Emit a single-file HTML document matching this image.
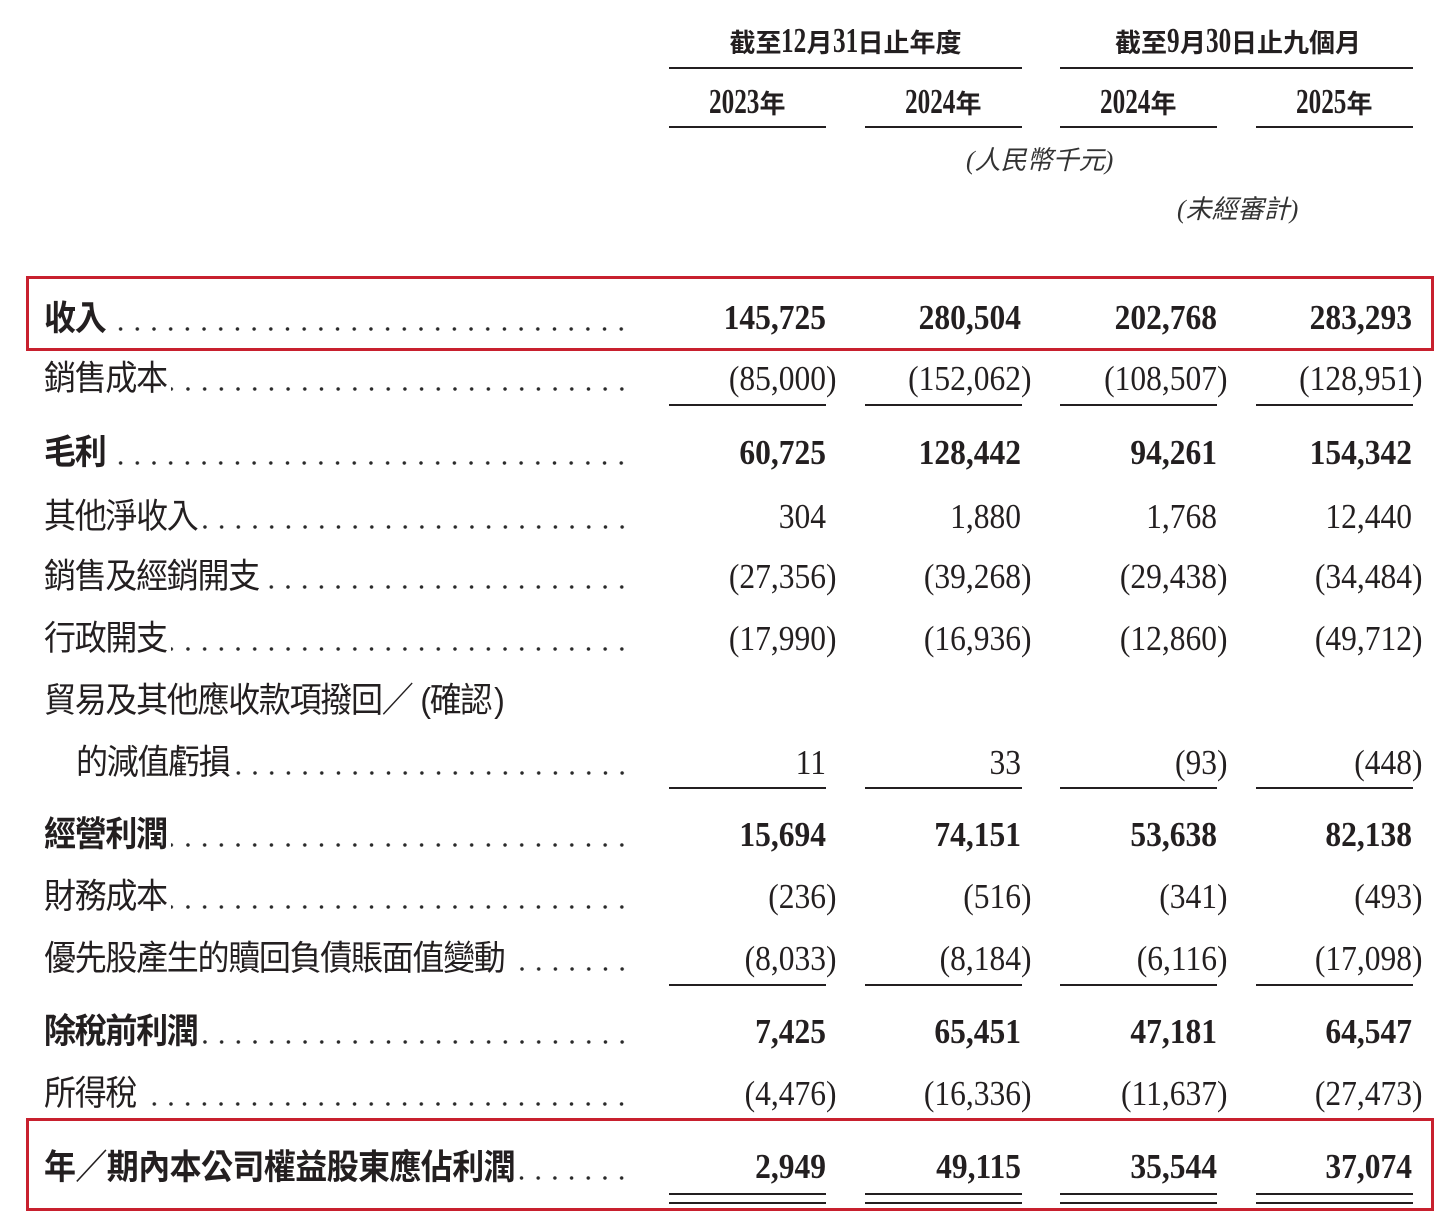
<!DOCTYPE html>
<html>
<head>
<meta charset="utf-8">
<style>
html,body{margin:0;padding:0}
body{width:1452px;height:1229px;background:#fff;position:relative;overflow:hidden;color:#231f20}
.ln{position:absolute;height:2px;background:#231f20}
.hd{position:absolute;text-align:center;white-space:nowrap;font:700 26px/40px "Liberation Serif","Noto Sans CJK TC",sans-serif}
.d{display:inline-block;font-size:35px;line-height:40px;text-align:left;white-space:nowrap}
.d i{font-style:normal;display:inline-block;transform:scaleX(.72);transform-origin:0 50%}
.it{position:absolute;white-space:nowrap;font:italic 26px/26px "Liberation Serif","Noto Sans CJK TC",serif;color:#333}
.row{position:absolute;right:822px;height:32px;display:flex;font:32px/32px "Liberation Sans","Noto Sans CJK TC",sans-serif;letter-spacing:-1.3px;white-space:nowrap;color:#231f20}
.row.b{font-weight:700}
.row > span:first-child{display:block;transform:scaleY(1.08);transform-origin:0 29px}
.lead{flex:1;margin-left:4px;background:radial-gradient(circle,#2a2a2a 1.5px,rgba(0,0,0,0) 2px) right 0 top 24px/16.7px 4px repeat-x}
.n{position:absolute;width:220px;text-align:right;white-space:nowrap;font:35px/35px "Liberation Serif",serif;transform:scaleX(.9);transform-origin:100% 50%}
.n.b{font-weight:700}
.p{margin-right:-.333em}
.box{position:absolute;border:3px solid #c8202e;box-sizing:border-box}
</style>
</head>
<body>

<!-- Headers -->
<div class="hd" style="left:669px;width:353px;top:21px">截至<span class="d" style="width:25px"><i>12</i></span>月<span class="d" style="width:25px"><i>31</i></span>日止年度</div>
<div class="hd" style="left:1060px;width:356px;top:21px">截至<span class="d" style="width:13px"><i>9</i></span>月<span class="d" style="width:25px"><i>30</i></span>日止九個月</div>
<div class="ln" style="left:669px;width:353px;top:67px"></div>
<div class="ln" style="left:1060px;width:353px;top:67px"></div>

<div class="hd" style="left:669px;width:157px;top:82px"><span class="d" style="width:50px"><i>2023</i></span>年</div>
<div class="hd" style="left:865px;width:157px;top:82px"><span class="d" style="width:50px"><i>2024</i></span>年</div>
<div class="hd" style="left:1060px;width:157px;top:82px"><span class="d" style="width:50px"><i>2024</i></span>年</div>
<div class="hd" style="left:1256px;width:157px;top:82px"><span class="d" style="width:50px"><i>2025</i></span>年</div>
<div class="ln" style="left:669px;width:157px;top:126px"></div>
<div class="ln" style="left:865px;width:157px;top:126px"></div>
<div class="ln" style="left:1060px;width:157px;top:126px"></div>
<div class="ln" style="left:1256px;width:157px;top:126px"></div>

<div class="it" style="left:966px;top:148px">(人民幣千元)</div>
<div class="it" style="left:1177px;top:197px">(未經審計)</div>

<!-- Red boxes -->
<div class="box" style="left:26px;top:276px;width:1408px;height:75px"></div>
<div class="box" style="left:26px;top:1118px;width:1408px;height:93px"></div>

<!-- Row 1 -->
<div class="row b" style="left:44px;top:302.5px"><span>收入</span><span class="lead" style="margin-left:10px"></span></div>
<div class="n b" style="right:626px;top:300px">145,725</div>
<div class="n b" style="right:431px;top:300px">280,504</div>
<div class="n b" style="right:235px;top:300px">202,768</div>
<div class="n b" style="right:40px;top:300px">283,293</div>

<!-- Row 2 -->
<div class="row" style="left:44px;top:363px"><span>銷售成本</span><span class="lead"></span></div>
<div class="n" style="right:626px;top:360.5px">(85,000<span class="p">)</span></div>
<div class="n" style="right:431px;top:360.5px">(152,062<span class="p">)</span></div>
<div class="n" style="right:235px;top:360.5px">(108,507<span class="p">)</span></div>
<div class="n" style="right:40px;top:360.5px">(128,951<span class="p">)</span></div>
<div class="ln" style="left:669px;width:157px;top:404px"></div>
<div class="ln" style="left:865px;width:157px;top:404px"></div>
<div class="ln" style="left:1060px;width:157px;top:404px"></div>
<div class="ln" style="left:1256px;width:157px;top:404px"></div>

<!-- Row 3 -->
<div class="row b" style="left:44px;top:437px"><span>毛利</span><span class="lead" style="margin-left:10px"></span></div>
<div class="n b" style="right:626px;top:434.5px">60,725</div>
<div class="n b" style="right:431px;top:434.5px">128,442</div>
<div class="n b" style="right:235px;top:434.5px">94,261</div>
<div class="n b" style="right:40px;top:434.5px">154,342</div>

<!-- Row 4 -->
<div class="row" style="left:44px;top:501px"><span>其他淨收入</span><span class="lead"></span></div>
<div class="n" style="right:626px;top:498.5px">304</div>
<div class="n" style="right:431px;top:498.5px">1,880</div>
<div class="n" style="right:235px;top:498.5px">1,768</div>
<div class="n" style="right:40px;top:498.5px">12,440</div>

<!-- Row 5 -->
<div class="row" style="left:44px;top:561px"><span>銷售及經銷開支</span><span class="lead"></span></div>
<div class="n" style="right:626px;top:558.5px">(27,356<span class="p">)</span></div>
<div class="n" style="right:431px;top:558.5px">(39,268<span class="p">)</span></div>
<div class="n" style="right:235px;top:558.5px">(29,438<span class="p">)</span></div>
<div class="n" style="right:40px;top:558.5px">(34,484<span class="p">)</span></div>

<!-- Row 6 -->
<div class="row" style="left:44px;top:623px"><span>行政開支</span><span class="lead"></span></div>
<div class="n" style="right:626px;top:620.5px">(17,990<span class="p">)</span></div>
<div class="n" style="right:431px;top:620.5px">(16,936<span class="p">)</span></div>
<div class="n" style="right:235px;top:620.5px">(12,860<span class="p">)</span></div>
<div class="n" style="right:40px;top:620.5px">(49,712<span class="p">)</span></div>

<!-- Row 7 -->
<div class="row" style="left:44px;top:685px;right:auto"><span>貿易及其他應收款項撥回／<span style="margin-left:8px">(</span>確認<span style="margin-left:3px">)</span></span></div>

<!-- Row 8 -->
<div class="row" style="left:76px;top:747px"><span>的減值虧損</span><span class="lead"></span></div>
<div class="n" style="right:626px;top:744.5px">11</div>
<div class="n" style="right:431px;top:744.5px">33</div>
<div class="n" style="right:235px;top:744.5px">(93<span class="p">)</span></div>
<div class="n" style="right:40px;top:744.5px">(448<span class="p">)</span></div>
<div class="ln" style="left:669px;width:157px;top:787px"></div>
<div class="ln" style="left:865px;width:157px;top:787px"></div>
<div class="ln" style="left:1060px;width:157px;top:787px"></div>
<div class="ln" style="left:1256px;width:157px;top:787px"></div>

<!-- Row 9 -->
<div class="row b" style="left:44px;top:819px"><span>經營利潤</span><span class="lead"></span></div>
<div class="n b" style="right:626px;top:816.5px">15,694</div>
<div class="n b" style="right:431px;top:816.5px">74,151</div>
<div class="n b" style="right:235px;top:816.5px">53,638</div>
<div class="n b" style="right:40px;top:816.5px">82,138</div>

<!-- Row 10 -->
<div class="row" style="left:44px;top:881px"><span>財務成本</span><span class="lead"></span></div>
<div class="n" style="right:626px;top:878.5px">(236<span class="p">)</span></div>
<div class="n" style="right:431px;top:878.5px">(516<span class="p">)</span></div>
<div class="n" style="right:235px;top:878.5px">(341<span class="p">)</span></div>
<div class="n" style="right:40px;top:878.5px">(493<span class="p">)</span></div>

<!-- Row 11 -->
<div class="row" style="left:44px;top:943px"><span>優先股產生的贖回負債賬面值變動</span><span class="lead" style="margin-left:12px"></span></div>
<div class="n" style="right:626px;top:940.5px">(8,033<span class="p">)</span></div>
<div class="n" style="right:431px;top:940.5px">(8,184<span class="p">)</span></div>
<div class="n" style="right:235px;top:940.5px">(6,116<span class="p">)</span></div>
<div class="n" style="right:40px;top:940.5px">(17,098<span class="p">)</span></div>
<div class="ln" style="left:669px;width:157px;top:984px"></div>
<div class="ln" style="left:865px;width:157px;top:984px"></div>
<div class="ln" style="left:1060px;width:157px;top:984px"></div>
<div class="ln" style="left:1256px;width:157px;top:984px"></div>

<!-- Row 12 -->
<div class="row b" style="left:44px;top:1016px"><span>除稅前利潤</span><span class="lead"></span></div>
<div class="n b" style="right:626px;top:1013.5px">7,425</div>
<div class="n b" style="right:431px;top:1013.5px">65,451</div>
<div class="n b" style="right:235px;top:1013.5px">47,181</div>
<div class="n b" style="right:40px;top:1013.5px">64,547</div>

<!-- Row 13 -->
<div class="row" style="left:44px;top:1078px"><span>所得稅</span><span class="lead" style="margin-left:12px"></span></div>
<div class="n" style="right:626px;top:1075.5px">(4,476<span class="p">)</span></div>
<div class="n" style="right:431px;top:1075.5px">(16,336<span class="p">)</span></div>
<div class="n" style="right:235px;top:1075.5px">(11,637<span class="p">)</span></div>
<div class="n" style="right:40px;top:1075.5px">(27,473<span class="p">)</span></div>

<!-- Row 14 -->
<div class="row b" style="left:44px;top:1151.5px;letter-spacing:-0.6px"><span>年／期內本公司權益股東應佔利潤</span><span class="lead"></span></div>
<div class="n b" style="right:626px;top:1149px">2,949</div>
<div class="n b" style="right:431px;top:1149px">49,115</div>
<div class="n b" style="right:235px;top:1149px">35,544</div>
<div class="n b" style="right:40px;top:1149px">37,074</div>
<div class="ln" style="left:669px;width:157px;top:1193px"></div>
<div class="ln" style="left:865px;width:157px;top:1193px"></div>
<div class="ln" style="left:1060px;width:157px;top:1193px"></div>
<div class="ln" style="left:1256px;width:157px;top:1193px"></div>
<div class="ln" style="left:669px;width:157px;top:1202px"></div>
<div class="ln" style="left:865px;width:157px;top:1202px"></div>
<div class="ln" style="left:1060px;width:157px;top:1202px"></div>
<div class="ln" style="left:1256px;width:157px;top:1202px"></div>

</body>
</html>
